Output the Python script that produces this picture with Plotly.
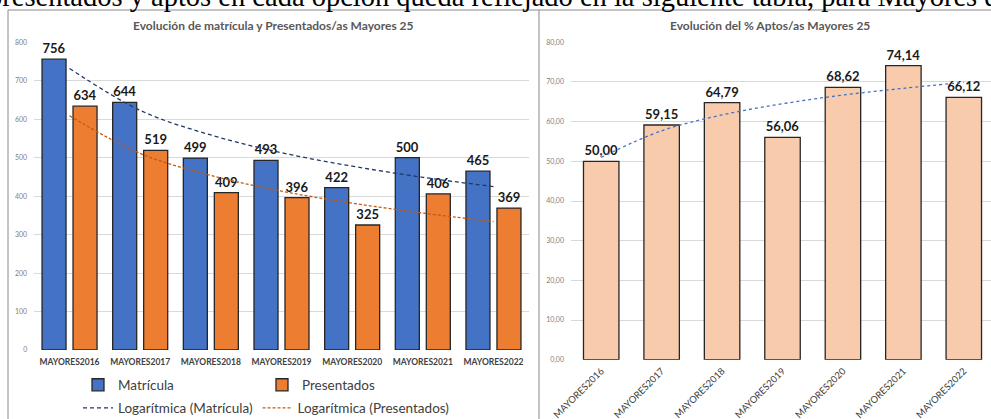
import plotly.graph_objects as go

W, H = 991, 419

categories = ["MAYORES2016", "MAYORES2017", "MAYORES2018", "MAYORES2019",
              "MAYORES2020", "MAYORES2021", "MAYORES2022"]
matricula = [756, 644, 499, 493, 422, 500, 465]
presentados = [634, 519, 409, 396, 325, 406, 369]
# logarithmic trendlines
trend_matricula = [732, 623, 559, 513, 478, 449, 425]
trend_presentados = [609, 511, 454, 413, 382, 356, 334]
aptos = [50.00, 59.15, 64.79, 56.06, 68.62, 74.14, 66.12]
trend_aptos = [51.0, 57.7, 61.7, 64.5, 66.7, 68.4, 69.9]

left_ticks = [0, 100, 200, 300, 400, 500, 600, 700, 800]
right_ticks = [0, 10, 20, 30, 40, 50, 60, 70, 80]

BLUE = "#4472C4"
ORANGE = "#ED7D31"
PEACH = "#F8CBAD"
OUTLINE = "#262626"
FONT = "Lato"

def px(x):
    return x / W

def py(y):
    return 1 - y / H

fig = go.Figure()

label_font = dict(family=FONT, size=13, color="#1a1a1a", weight="bold")

fig.add_trace(go.Bar(
    x=categories, y=matricula, name="Matrícula",
    marker=dict(color=BLUE, line=dict(color=OUTLINE, width=1.3)),
    texttemplate="%{y}", textposition="outside",
    textfont=label_font, cliponaxis=False, constraintext="none",
    xaxis="x", yaxis="y", legend="legend"))
fig.add_trace(go.Bar(
    x=categories, y=presentados, name="Presentados",
    marker=dict(color=ORANGE, line=dict(color=OUTLINE, width=1.3)),
    texttemplate="%{y}", textposition="outside",
    textfont=label_font, cliponaxis=False, constraintext="none",
    xaxis="x", yaxis="y", legend="legend"))
fig.add_trace(go.Scatter(
    x=categories, y=trend_matricula, name="Logarítmica (Matrícula)",
    mode="lines", line=dict(color="#203864", width=1.3, dash="4px,3px", shape="spline"),
    xaxis="x", yaxis="y", legend="legend2"))
fig.add_trace(go.Scatter(
    x=categories, y=trend_presentados, name="Logarítmica (Presentados)",
    mode="lines", line=dict(color="#C55A11", width=1.3, dash="3px,2px", shape="spline"),
    xaxis="x", yaxis="y", legend="legend2"))

fig.add_trace(go.Bar(
    x=categories, y=aptos, name="% Aptos", width=0.587,
    marker=dict(color=PEACH, line=dict(color=OUTLINE, width=1.3)),
    texttemplate="%{y:.2f}", textposition="outside",
    textfont=label_font, cliponaxis=False, constraintext="none",
    xaxis="x2", yaxis="y2", showlegend=False))
fig.add_trace(go.Scatter(
    x=categories, y=trend_aptos, name="Logarítmica (% Aptos)",
    mode="lines", line=dict(color=BLUE, width=1.3, dash="dot", shape="spline"),
    xaxis="x2", yaxis="y2", showlegend=False))

grid = "#d9d9d9"
tickfont_y = dict(family=FONT, size=7, color="#808080")
legend_font = dict(family=FONT, size=13.5, color="#404040")

fig.update_layout(
    width=W, height=H,
    margin=dict(l=0, r=0, t=0, b=0, autoexpand=False),
    paper_bgcolor="white", plot_bgcolor="white",
    separators=",.",
    barmode="group", bargap=0.1226, bargroupgap=0.225,
    showlegend=True,
    xaxis=dict(domain=[px(34.2), px(528.8)], range=[-0.5, 6.5], automargin=False,
               showgrid=False, showline=False, ticks="", ticklabelstandoff=5,
               tickfont=dict(family=FONT, size=8.5, color="#404040", weight="bold"),
               tickangle=0, anchor="y"),
    yaxis=dict(domain=[py(350), py(42.3)], range=[0, 800], automargin=False,
               tickvals=left_ticks, showgrid=True, gridcolor=grid, gridwidth=1,
               zeroline=False, showline=False, ticks="", tickfont=tickfont_y,
               ticklabelstandoff=6, anchor="x"),
    xaxis2=dict(domain=[px(571), 1], range=[-0.5, 6.45], automargin=False,
                showgrid=False, showline=False, ticks="", ticklabelstandoff=3,
                tickfont=dict(family=FONT, size=9.5, color="#404040"),
                tickangle=-45, anchor="y2"),
    yaxis2=dict(domain=[py(359.7), py(42.3)], range=[0, 80], automargin=False,
                tickvals=right_ticks, tickformat=".2f", showgrid=True,
                gridcolor=grid, gridwidth=1, zeroline=False, showline=False,
                ticks="", tickfont=tickfont_y, ticklabelstandoff=6, anchor="x2"),
    legend=dict(orientation="h", x=px(78), xanchor="left", y=py(385), yanchor="middle",
                entrywidth=139, entrywidthmode="pixels", traceorder="normal",
                font=legend_font, bgcolor="rgba(0,0,0,0)"),
    legend2=dict(orientation="h", x=px(78), xanchor="left", y=py(408), yanchor="middle",
                 traceorder="normal", font=legend_font, bgcolor="rgba(0,0,0,0)"),
)

frame = "#8a8a8a"
fig.add_shape(type="line", xref="paper", yref="paper", x0=px(8), x1=1, y0=py(10), y1=py(10),
              line=dict(color=frame, width=1))
fig.add_shape(type="line", xref="paper", yref="paper", x0=px(8), x1=px(8), y0=py(10), y1=0,
              line=dict(color=frame, width=1))
fig.add_shape(type="line", xref="paper", yref="paper", x0=px(539), x1=px(539), y0=py(10), y1=0,
              line=dict(color=frame, width=1))

title_font = dict(family=FONT, size=12, color="#595959", weight="bold")
fig.add_annotation(text="Evolución de matrícula y Presentados/as Mayores 25",
                   xref="paper", yref="paper", x=px(273), y=py(25),
                   xanchor="center", yanchor="middle", showarrow=False, font=title_font)
fig.add_annotation(text="Evolución del % Aptos/as Mayores 25",
                   xref="paper", yref="paper", x=px(770), y=py(25),
                   xanchor="center", yanchor="middle", showarrow=False, font=title_font)
fig.add_annotation(text="presentados y aptos en cada opción queda reflejado en la siguiente tabla, para Mayores de 25 años",
                   xref="paper", yref="paper", x=0, y=py(-3.5), xshift=-14.5,
                   xanchor="left", yanchor="middle", showarrow=False,
                   font=dict(family="Liberation Serif", size=28.5, color="black"))

fig.write_html("out.html", config={"displayModeBar": False},
               post_script="document.body.style.margin='0';document.body.style.overflow='hidden';")
